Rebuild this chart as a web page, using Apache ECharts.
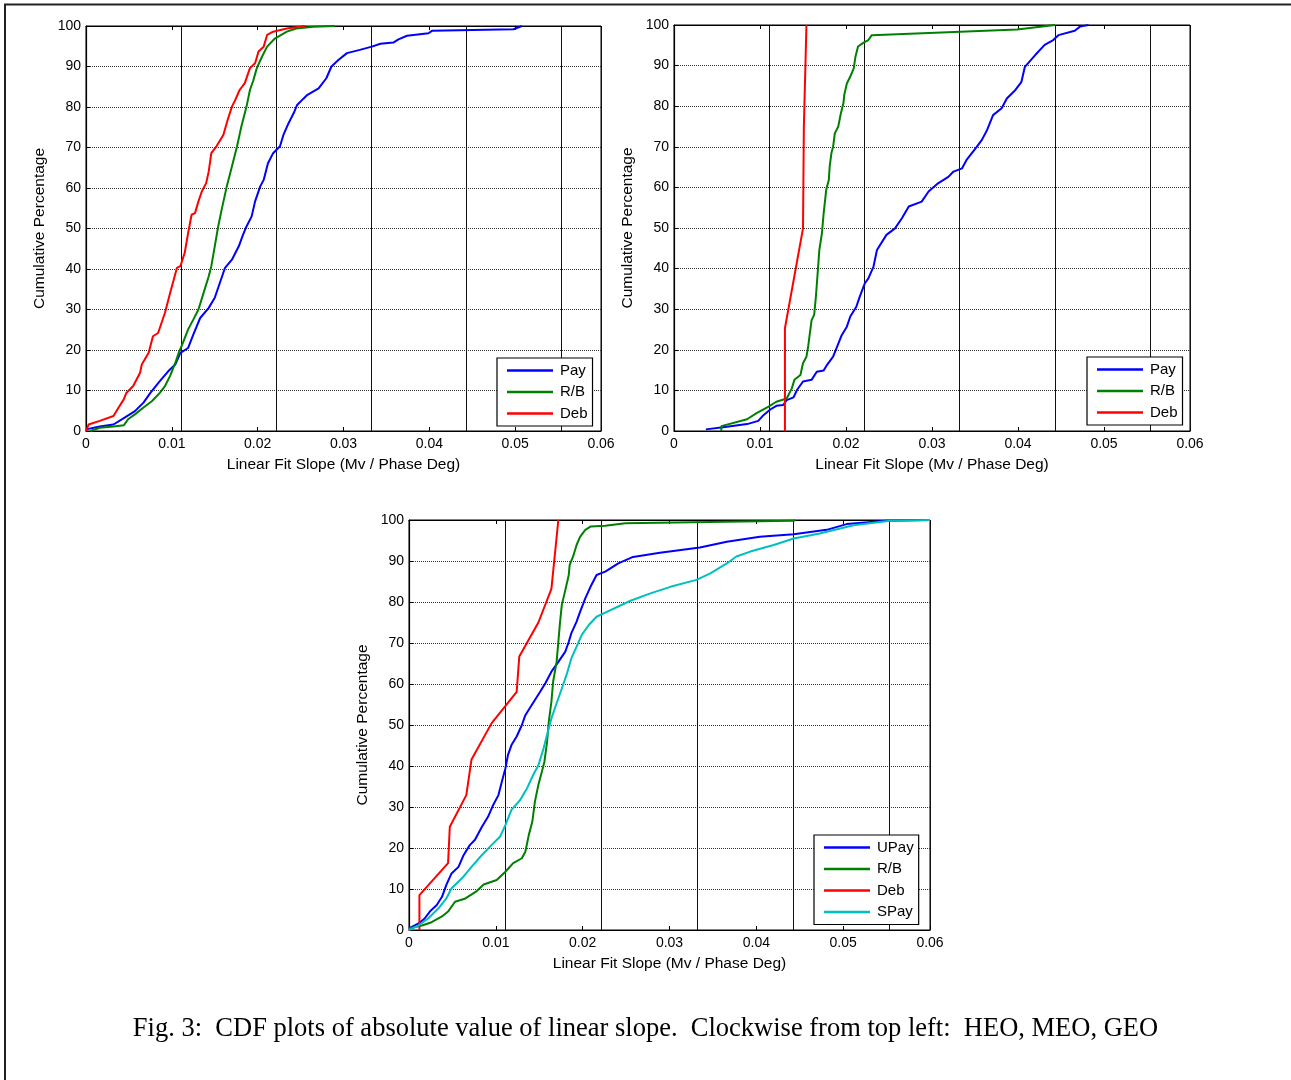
<!DOCTYPE html>
<html>
<head>
<meta charset="utf-8">
<script src="https://cdn.jsdelivr.net/npm/echarts@6/dist/echarts.min.js"></script>
<style>
html,body{margin:0;padding:0;background:#fff;}
#chart{width:1291px;height:1080px;}
</style>
</head>
<body>
<div id="chart"></div>
<script>
// ---------- data (x = linear fit slope, y = cumulative percentage) ----------
const xTicks = [0, 0.01, 0.02, 0.03, 0.04, 0.05, 0.06];
const yTicks = [0, 10, 20, 30, 40, 50, 60, 70, 80, 90, 100];

// HEO (top left)
const heoPay = [[0,0.4],[0.0016,1.1],[0.0032,1.6],[0.0045,3.3],[0.0057,4.9],[0.0067,7.0],[0.0075,9.4],[0.0086,12.3],[0.0096,14.8],[0.0104,16.4],[0.011,19.3],[0.0119,20.5],[0.0125,23.8],[0.0133,27.9],[0.0143,30.4],[0.015,32.9],[0.0156,36.6],[0.0162,40.3],[0.017,42.3],[0.0178,45.6],[0.0183,48.5],[0.0187,50.5],[0.0193,53],[0.0197,56.7],[0.0203,60.4],[0.0207,62],[0.0212,66.1],[0.0218,68.6],[0.0226,70.3],[0.023,73.1],[0.0236,76],[0.0242,78.5],[0.0246,80.5],[0.0253,82],[0.0258,83],[0.0271,84.6],[0.028,87.1],[0.0286,90],[0.0294,91.6],[0.0304,93.3],[0.0319,94.1],[0.0333,94.9],[0.0343,95.6],[0.0358,95.9],[0.0364,96.7],[0.0374,97.6],[0.0399,98.2],[0.0403,98.8],[0.0498,99.2],[0.0508,100]];
const heoRB = [[0.0005,0],[0.0016,0.8],[0.0032,1.1],[0.0044,1.4],[0.0049,2.9],[0.0057,4.1],[0.0067,5.8],[0.0077,7.4],[0.0086,9.4],[0.0092,11.1],[0.0098,13.6],[0.0104,16.8],[0.0108,19.3],[0.0113,21.8],[0.0119,25.1],[0.0125,27.5],[0.0131,30],[0.0137,34.1],[0.0143,38.2],[0.0146,40.7],[0.015,45.6],[0.0154,50.5],[0.0158,54.6],[0.0164,60.4],[0.017,65.3],[0.0176,70.3],[0.0181,75.2],[0.0187,80.1],[0.0191,84.2],[0.0195,86.6],[0.0199,89.6],[0.0205,92.4],[0.0211,94.9],[0.022,96.9],[0.0234,98.6],[0.0245,99.4],[0.0265,99.8],[0.029,100]];
const heoDeb = [[0,0],[0.0003,1.6],[0.0016,2.5],[0.0032,3.7],[0.0038,5.8],[0.0044,7.8],[0.0047,9.4],[0.0055,11.1],[0.0063,14.4],[0.0065,16.4],[0.0073,19.3],[0.0078,23.4],[0.0084,24.2],[0.0092,29.2],[0.0098,34.1],[0.0106,40.3],[0.011,40.7],[0.0115,44],[0.0119,48.9],[0.0123,53.4],[0.0127,53.8],[0.0131,56.7],[0.0135,59.2],[0.014,61.2],[0.0143,64.1],[0.0146,68.6],[0.0152,70.3],[0.016,73.1],[0.0165,76.8],[0.017,80.1],[0.0174,81.8],[0.0179,84.2],[0.0185,85.9],[0.0191,89.6],[0.0197,90.8],[0.0201,93.7],[0.0207,94.9],[0.0211,97.8],[0.0218,98.6],[0.0234,99.4],[0.0255,100]];

// MEO (top right)
const meoPay = [[0.0037,0.4],[0.0057,0.9],[0.0085,1.7],[0.0098,2.5],[0.0104,3.9],[0.0112,5.3],[0.0119,6.2],[0.0127,6.4],[0.0131,7.6],[0.0139,8.3],[0.0143,10.1],[0.015,12.2],[0.016,12.6],[0.0166,14.6],[0.0174,14.9],[0.0178,16.3],[0.0185,18.3],[0.0189,20.4],[0.0195,23.6],[0.0201,25.7],[0.0205,28.2],[0.0212,30.6],[0.0216,33.1],[0.0222,36.4],[0.0226,37.6],[0.0232,40.5],[0.0236,44.6],[0.0247,48.3],[0.0257,49.9],[0.0265,52.4],[0.0273,55.3],[0.0288,56.5],[0.0296,59],[0.0307,61],[0.0319,62.6],[0.0325,63.9],[0.0335,64.7],[0.034,66.7],[0.0352,70],[0.0358,71.7],[0.0364,74.1],[0.0371,77.8],[0.0381,79.5],[0.0387,81.9],[0.0397,84],[0.0404,86],[0.0408,89.7],[0.042,92.6],[0.0431,95.1],[0.0441,96.3],[0.0447,97.5],[0.0466,98.6],[0.0472,99.6],[0.0482,100]];
const meoRB = [[0.0055,0],[0.0055,1.2],[0.0085,2.9],[0.0096,4.4],[0.011,6],[0.0119,7.2],[0.0131,8],[0.0137,10.5],[0.014,12.6],[0.0147,13.8],[0.015,16.7],[0.0154,18.3],[0.0156,20.8],[0.0158,24.1],[0.016,27.3],[0.0163,28.6],[0.0165,33.1],[0.0167,38.8],[0.0169,44.6],[0.0172,48.7],[0.0174,53.6],[0.0177,59.4],[0.018,61.8],[0.0181,65.1],[0.0183,68.4],[0.0185,70],[0.0187,73.3],[0.0191,75],[0.0194,78.2],[0.0197,80.7],[0.0198,82.8],[0.0201,85.6],[0.0205,87.3],[0.0209,89.3],[0.0211,92.2],[0.0214,94.7],[0.022,95.6],[0.0226,96.3],[0.023,97.5],[0.0399,98.9],[0.0443,100]];
const meoDeb = [[0.0129,0],[0.0129,25.3],[0.015,49.9],[0.0151,75],[0.0154,100]];

// GEO (bottom)
const geoUPay = [[0,0.4],[0.0011,1.6],[0.0018,2.8],[0.0024,4.5],[0.0032,6.1],[0.0038,8.1],[0.0043,11],[0.0049,13.8],[0.0057,15.4],[0.0063,18.3],[0.007,20.7],[0.0076,22],[0.0084,25.2],[0.0091,27.6],[0.0097,30.5],[0.0103,32.9],[0.0107,36.2],[0.0111,39.4],[0.0114,42.7],[0.0118,45.1],[0.0124,47.2],[0.013,50],[0.0134,52.4],[0.0139,54.1],[0.0145,56.1],[0.0151,58.1],[0.0157,60.2],[0.0164,63],[0.0172,65.4],[0.018,67.9],[0.0184,70.3],[0.0187,72.4],[0.0193,75.2],[0.0197,77.6],[0.0203,80.9],[0.0209,83.7],[0.0216,86.6],[0.0226,87.4],[0.0241,89.4],[0.0258,91],[0.0289,92],[0.0335,93.3],[0.0366,94.7],[0.0404,95.9],[0.0443,96.5],[0.0481,97.6],[0.0504,99],[0.055,99.8],[0.06,100]];
const geoRB = [[0,0.4],[0.0015,1.1],[0.0026,1.9],[0.0038,3.3],[0.0045,4.5],[0.0053,6.9],[0.0065,7.7],[0.0078,9.5],[0.0086,11.1],[0.0101,12.2],[0.0111,14.2],[0.012,16.3],[0.013,17.5],[0.0134,19.1],[0.0138,23.2],[0.0142,26.4],[0.0145,31.3],[0.0149,35.4],[0.0153,38.6],[0.0156,41.1],[0.0159,45.9],[0.0161,50.8],[0.0164,55.7],[0.0166,60.6],[0.017,65.4],[0.0172,70.3],[0.0174,75.2],[0.0176,79.3],[0.018,82.9],[0.0184,86.6],[0.0185,89],[0.0189,91.1],[0.0193,93.9],[0.0197,95.9],[0.0203,97.6],[0.0209,98.4],[0.0226,98.6],[0.0249,99.2],[0.0251,99.4],[0.0443,99.8],[0.0445,100]];
const geoDeb = [[0.0012,0],[0.0012,8.5],[0.0045,16.3],[0.0047,25.2],[0.0066,32.9],[0.0072,41.6],[0.0095,50.4],[0.0124,58.1],[0.0127,66.7],[0.0149,75],[0.0164,83.2],[0.0172,100]];
const geoSPay = [[0,0],[0.0011,1.1],[0.0022,2.8],[0.0034,5.3],[0.0043,7.7],[0.0049,10.2],[0.0061,12.6],[0.0072,15.4],[0.0084,18.3],[0.0095,20.7],[0.0105,22.8],[0.0111,25.6],[0.0118,29.3],[0.0128,31.7],[0.0136,34.6],[0.0143,37.8],[0.0149,40.2],[0.0155,44.3],[0.0159,47.6],[0.0164,51.6],[0.017,55.3],[0.0176,58.9],[0.0182,62.6],[0.0187,66.3],[0.0193,69.1],[0.0199,72],[0.0207,74.4],[0.0216,76.4],[0.0226,77.4],[0.0241,78.9],[0.0255,80.3],[0.0278,82.1],[0.0301,83.7],[0.0331,85.4],[0.0347,87],[0.0366,89.4],[0.0377,91.1],[0.0393,92.3],[0.042,93.9],[0.0443,95.5],[0.0473,96.7],[0.0512,98.7],[0.0554,99.8],[0.06,100]];

const xName = 'Linear Fit Slope (Mv / Phase Deg)';
const yName = 'Cumulative Percentage';
const caption = 'Fig. 3:  CDF plots of absolute value of linear slope.  Clockwise from top left:  HEO, MEO, GEO';

// ---------- styling / layout ----------
const COLORS = { blue: '#0000ff', green: '#008000', red: '#ff0000', cyan: '#00bfbf' };
const FONT = '"Liberation Sans", Arial, sans-serif';
const VGRID_STEP = 0.01107; // vertical grid spacing seen in the figure

const panels = [
  { grid: { left: 86, top: 26, width: 515, height: 405 },
    series: [['Pay', heoPay, COLORS.blue], ['R/B', heoRB, COLORS.green], ['Deb', heoDeb, COLORS.red]],
    legend: { left: 497, top: 358 } },
  { grid: { left: 674, top: 25, width: 516, height: 406 },
    series: [['Pay', meoPay, COLORS.blue], ['R/B', meoRB, COLORS.green], ['Deb', meoDeb, COLORS.red]],
    legend: { left: 1087, top: 357 } },
  { grid: { left: 409, top: 520, width: 521, height: 410 },
    series: [['UPay', geoUPay, COLORS.blue], ['R/B', geoRB, COLORS.green], ['Deb', geoDeb, COLORS.red], ['SPay', geoSPay, COLORS.cyan]],
    legend: { left: 814, top: 835 } }
];

const grid = [], xAxis = [], yAxis = [], series = [], legend = [];
panels.forEach((p, i) => {
  grid.push(Object.assign({ show: true, borderColor: '#000', borderWidth: 1, backgroundColor: '#fff', containLabel: false }, p.grid));
  // main x axis with labels
  xAxis.push({
    type: 'value', gridIndex: i, min: xTicks[0], max: xTicks[xTicks.length - 1], interval: xTicks[1] - xTicks[0],
    position: 'bottom',
    name: xName, nameLocation: 'middle', nameGap: 26,
    nameTextStyle: { fontFamily: FONT, fontSize: 15.5, color: '#000' },
    axisLine: { show: true, onZero: false, lineStyle: { color: '#000', width: 1.2 } },
    axisTick: { show: true, inside: true, length: 4, lineStyle: { color: '#000' } },
    axisLabel: { fontFamily: FONT, fontSize: 14, color: '#000', margin: 6,
      formatter: v => v === 0 ? '0' : v.toFixed(2) },
    splitLine: { show: false }
  });
  // vertical grid lines
  xAxis.push({
    type: 'value', gridIndex: i, min: 0, max: xTicks[xTicks.length - 1], interval: VGRID_STEP,
    position: 'bottom', show: true,
    axisLine: { show: false }, axisTick: { show: false }, axisLabel: { show: false },
    splitLine: { show: true, lineStyle: { color: '#111', width: 1, type: 'solid' } }
  });
  // top ticks
  xAxis.push({
    type: 'value', gridIndex: i, min: xTicks[0], max: xTicks[xTicks.length - 1], interval: xTicks[1] - xTicks[0],
    position: 'top',
    axisLine: { show: true, onZero: false, lineStyle: { color: '#000', width: 1.2 } },
    axisTick: { show: true, inside: true, length: 4, lineStyle: { color: '#000' } },
    axisLabel: { show: false }, splitLine: { show: false }
  });
  yAxis.push({
    type: 'value', gridIndex: i, min: yTicks[0], max: yTicks[yTicks.length - 1], interval: yTicks[1] - yTicks[0],
    name: yName, nameLocation: 'middle', nameGap: 38, nameRotate: 90,
    nameTextStyle: { fontFamily: FONT, fontSize: 15.5, color: '#000' },
    axisLine: { show: true, onZero: false, lineStyle: { color: '#000', width: 1.2 } },
    axisTick: { show: true, inside: true, length: 4, lineStyle: { color: '#000' } },
    axisLabel: { fontFamily: FONT, fontSize: 14, color: '#000', margin: 5 },
    splitLine: { show: true, lineStyle: { color: '#333', width: 1, type: [1, 1] } }
  });
  p.series.forEach(([name, data, color]) => {
    series.push({
      type: 'line', name, data, xAxisIndex: i * 3, yAxisIndex: i,
      showSymbol: false, symbol: 'none', color,
      lineStyle: { color, width: 2 }, z: 5
    });
  });
  legend.push({
    orient: 'vertical', left: p.legend.left, top: p.legend.top,
    data: p.series.map(s => s[0]),
    icon: 'rect', itemWidth: 46, itemHeight: 2.5, itemGap: 6.5,
    padding: [5, 5, 5, 10],
    borderColor: '#000', borderWidth: 1.2, backgroundColor: '#fff',
    textStyle: { fontFamily: FONT, fontSize: 15, color: '#000', padding: [0, 0, 0, 2] },
    selectedMode: false, z: 10
  });
});

const chart = echarts.init(document.getElementById('chart'), null, { renderer: 'canvas' });
chart.setOption({
  animation: false,
  backgroundColor: '#fff',
  grid, xAxis, yAxis, series, legend,
  graphic: [
    { type: 'polyline', silent: true, z: 100,
      shape: { points: [[5, 1080], [5, 4.5], [1291, 4.5]] },
      style: { stroke: '#222', lineWidth: 2, fill: null } },
    { type: 'text', left: 'center', top: 1016, silent: true,
      style: { text: caption, font: '26.5px "Liberation Serif", "Times New Roman", serif', fill: '#000' } }
  ]
});
</script>
</body>
</html>
